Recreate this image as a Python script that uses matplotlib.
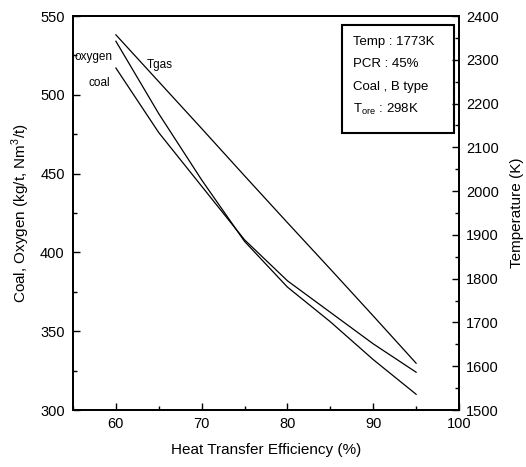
import matplotlib
matplotlib.use("Agg")
import matplotlib.pyplot as plt
from matplotlib.ticker import MultipleLocator

plt.rcParams['font.family'] = ['Liberation Sans', 'DejaVu Sans']

efficiency = [60, 65, 70, 75, 80, 85, 90, 95]
oxygen = [534, 488, 446, 407, 378, 356, 332, 310]
coal = [517, 476, 442, 408, 382, 362, 342, 324]
tgas = [2357, 2250, 2143, 2035, 1928, 1822, 1715, 1607]

info_lines = ["Temp : 1773K", "PCR : 45%", "Coal , B type", r"T$_{\mathregular{ore}}$ : 298K"]

fig = plt.figure(figsize=(5.26, 4.67), dpi=100)
ax = fig.add_axes([0.1388, 0.122, 0.7338, 0.8437])
ax2 = ax.twinx()

ax.plot(efficiency, oxygen, color='black', lw=0.9)
ax.plot(efficiency, coal, color='black', lw=0.9)
ax2.plot(efficiency, tgas, color='black', lw=0.9)

ax.set_xlim(55, 100)
ax.set_ylim(300, 550)
ax2.set_ylim(1500, 2400)
ax.xaxis.set_major_locator(MultipleLocator(10))
ax.xaxis.set_minor_locator(MultipleLocator(5))
ax.yaxis.set_major_locator(MultipleLocator(50))
ax.yaxis.set_minor_locator(MultipleLocator(25))
ax2.yaxis.set_major_locator(MultipleLocator(100))
ax2.yaxis.set_minor_locator(MultipleLocator(50))

for a in (ax, ax2):
    a.tick_params(which='both', direction='in', labelsize=10.5, width=1)
    a.tick_params(which='major', length=5)
    a.tick_params(which='minor', length=3)
    for s in a.spines.values():
        s.set_linewidth(1.3)
ax.tick_params(axis='y', which='both', pad=6)
ax.tick_params(axis='x', which='both', pad=5)
ax2.tick_params(axis='y', which='both', pad=5)

ax.set_xlabel("Heat Transfer Efficiency (%)", fontsize=11, labelpad=9)
ax.set_ylabel(r"Coal, Oxygen (kg/t, Nm$^{\mathregular{3}}$/t)", fontsize=11, labelpad=6)
ax2.set_ylabel("Temperature (K)", fontsize=11, labelpad=8)

ax.text(0.005, 0.895, "oxygen", transform=ax.transAxes, fontsize=8.5, va='center', ha='left')
ax.text(0.04, 0.83, "coal", transform=ax.transAxes, fontsize=8.5, va='center', ha='left')
ax.text(0.19, 0.875, "Tgas", transform=ax.transAxes, fontsize=8.5, va='center', ha='left')

# info box
box = plt.Rectangle((0.697, 0.703), 0.29, 0.275, transform=ax.transAxes,
                    fill=True, facecolor='white', edgecolor='black', lw=1.5, zorder=5)
ax.add_patch(box)
ys = [0.934, 0.877, 0.82, 0.762]
for t, y in zip(info_lines, ys):
    ax.text(0.725, y, t, transform=ax.transAxes, fontsize=9.5, va='center', ha='left', zorder=6)

fig.savefig("out.png", dpi=100)
